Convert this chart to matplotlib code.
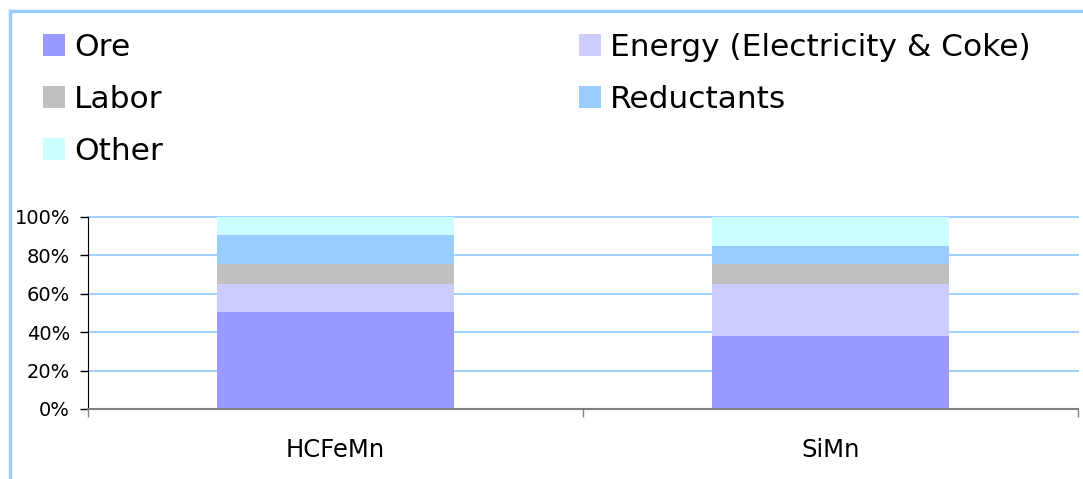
import matplotlib
matplotlib.use("Agg")
import matplotlib.pyplot as plt
from matplotlib.patches import Rectangle, Patch
import numpy as np

categories = ["HCFeMn", "SiMn"]
series_names = ["Ore", "Energy (Electricity & Coke)", "Labor", "Reductants", "Other"]
ore = [50.5, 38.0]
energy = [14.5, 27.0]
labor = [10.5, 10.5]
reductants = [15.0, 9.5]
other = [9.5, 15.0]
colors = ["#9999FF", "#CCCCFF", "#C0C0C0", "#99CCFF", "#CCFFFF"]
y_ticks = [0, 20, 40, 60, 80, 100]

W, H = 1083, 479
fig = plt.figure(figsize=(W / 100, H / 100), dpi=100)
plt.rcParams['font.family'] = ['DejaVu Sans']

# chart-area border (left and top edges visible)
fig.patches.append(Rectangle((10 / W, -0.1), 1.2, 1 - 11 / H + 0.1,
                             transform=fig.transFigure, fill=False,
                             edgecolor="#99CCFF", linewidth=2.5))

ax = fig.add_axes([88 / W, 1 - 409 / H, (1078 - 88) / W, (409 - 216.7) / H])
x = np.arange(len(categories)) + 0.5
series = [ore, energy, labor, reductants, other]
bottom = np.zeros(len(categories))
handles = []
for name, vals, c in zip(series_names, series, colors):
    ax.bar(x, vals, width=0.48, bottom=bottom, color=c, edgecolor="none", zorder=2)
    bottom += np.array(vals)
    handles.append(Patch(facecolor=c, edgecolor="none", label=name))

ax.set_xlim(0, 2)
ax.set_ylim(0, 100)
ax.set_yticks(y_ticks)
ax.set_yticklabels([f"{v}%" for v in y_ticks], fontsize=14)
ax.yaxis.grid(True, color="#99CCFF", linewidth=1.3, zorder=0)
for gl in ax.get_ygridlines():
    gl.set_clip_on(False)
ax.set_axisbelow(True)
ax.tick_params(axis="y", length=6, width=1, color="black", pad=7)

ax.set_xticks([0, 1, 2])
ax.set_xticklabels([])
ax.set_xticks(x, minor=True)
ax.set_xticklabels(categories, minor=True, fontsize=17.5)
ax.tick_params(axis="x", which="major", length=6, width=1, color="#808080", direction="out")
ax.tick_params(axis="x", which="minor", length=0, pad=21)

for s in ["top", "right"]:
    ax.spines[s].set_visible(False)
ax.spines["left"].set_color("black")
ax.spines["bottom"].set_color("#808080")
ax.spines["bottom"].set_linewidth(1.5)
ax.spines["bottom"].set_zorder(3)

order = [0, 2, 4, 1, 3]
fig.legend([handles[i] for i in order], [series_names[i] for i in order],
           ncol=2, loc="upper left", bbox_to_anchor=(43 / W, 1 - 33 / H),
           frameon=False, fontsize=22.5, handlelength=0.7, handleheight=0.7,
           handletextpad=0.3, labelspacing=0.74, columnspacing=13.3,
           borderaxespad=0, borderpad=0)

fig.savefig("out.png", dpi=100)
